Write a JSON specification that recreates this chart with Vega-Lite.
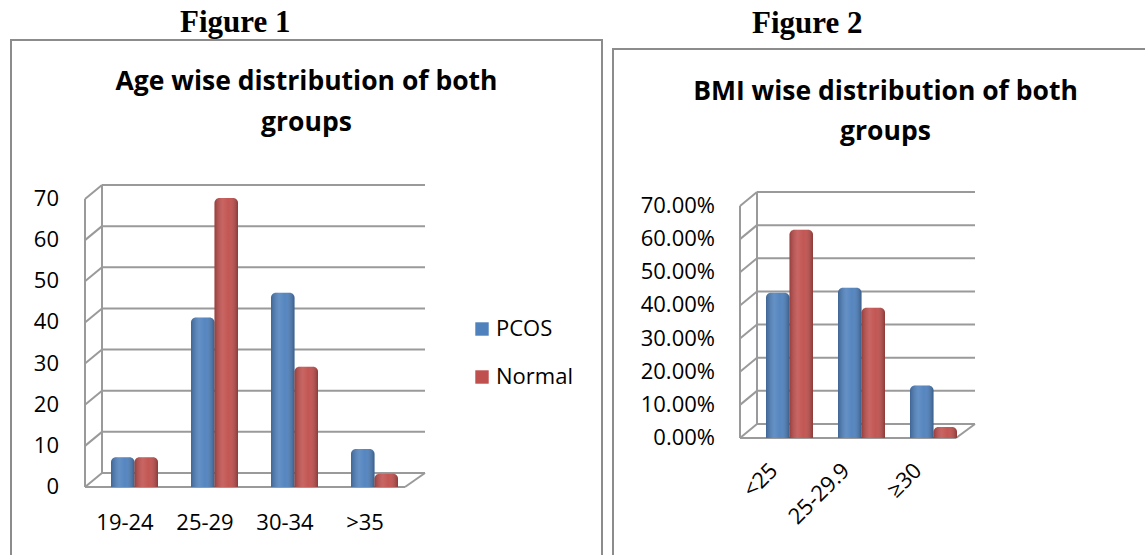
{
  "$schema": "https://vega.github.io/schema/vega-lite/v6.json",
  "padding": {"left": 10, "top": 7, "right": 0, "bottom": 0},
  "background": "white",
  "spacing": 9,
  "config": {
    "font": "Open Sans",
    "view": {"stroke": "#8c8c8c", "strokeWidth": 2},
    "axis": {"disable": true},
    "legend": {"labelFont": "Open Sans", "labelColor": "#000000"}
  },
  "datasets": {
    "age": [
      {"group": "19-24", "series": "PCOS", "value": 6},
      {"group": "19-24", "series": "Normal", "value": 6},
      {"group": "25-29", "series": "PCOS", "value": 40},
      {"group": "25-29", "series": "Normal", "value": 69},
      {"group": "30-34", "series": "PCOS", "value": 46},
      {"group": "30-34", "series": "Normal", "value": 28},
      {"group": ">35", "series": "PCOS", "value": 8},
      {"group": ">35", "series": "Normal", "value": 2}
    ],
    "bmi": [
      {"group": "<25", "series": "PCOS", "value": 0.42},
      {"group": "<25", "series": "Normal", "value": 0.61},
      {"group": "25-29.9", "series": "PCOS", "value": 0.435},
      {"group": "25-29.9", "series": "Normal", "value": 0.375},
      {"group": "≥30", "series": "PCOS", "value": 0.14},
      {"group": "≥30", "series": "Normal", "value": 0.015}
    ],
    "ageGroups": [{"group": "19-24"}, {"group": "25-29"}, {"group": "30-34"}, {"group": ">35"}],
    "bmiGroups": [{"group": "<25"}, {"group": "25-29.9"}, {"group": "≥30"}],
    "ageTicks": [{"v": 0}, {"v": 10}, {"v": 20}, {"v": 30}, {"v": 40}, {"v": 50}, {"v": 60}, {"v": 70}],
    "bmiTicks": [{"v": 0}, {"v": 0.1}, {"v": 0.2}, {"v": 0.3}, {"v": 0.4}, {"v": 0.5}, {"v": 0.6}, {"v": 0.7}],
    "one": [{}],
    "none": []
  },
  "hconcat": [
    {
      "title": {"text": "Figure 1", "anchor": "start", "dx": 170, "font": "Liberation Serif", "fontSize": 31, "fontWeight": "bold", "color": "#000000", "offset": 0},
      "vconcat": [
        {
          "width": 591,
          "height": 525,
          "title": {"text": ["Age wise distribution of both", "groups"], "anchor": "middle", "font": "Open Sans", "fontSize": 26.5, "fontWeight": "bold", "lineHeight": 41, "offset": -96, "color": "#000000"},
          "layer": [
            {
              "data": {"name": "ageTicks"},
              "mark": {"type": "rule", "color": "#9a9a9a", "strokeWidth": 2, "xOffset": 17, "x2Offset": 20, "yOffset": -14},
              "encoding": {
                "x": {"datum": "19-24", "type": "nominal", "bandPosition": 0, "scale": {"domain": ["19-24", "25-29", "30-34", ">35"], "range": [74, 394], "paddingInner": 0, "paddingOuter": 0}},
                "x2": {"datum": ">35", "bandPosition": 1},
                "y": {"field": "v", "type": "quantitative", "scale": {"domain": [0, 70], "range": [447, 159], "nice": false, "zero": false}}
              }
            },
            {
              "data": {"name": "ageTicks"},
              "mark": {"type": "rule", "color": "#9a9a9a", "strokeWidth": 2, "x2Offset": 17, "y2Offset": -14},
              "encoding": {
                "x": {"datum": "19-24", "type": "nominal", "bandPosition": 0},
                "x2": {"datum": "19-24", "bandPosition": 0},
                "y": {"field": "v", "type": "quantitative"},
                "y2": {"field": "v"}
              }
            },
            {
              "data": {"name": "one"},
              "mark": {"type": "rule", "color": "#9a9a9a", "strokeWidth": 2},
              "encoding": {
                "x": {"datum": "19-24", "type": "nominal", "bandPosition": 0},
                "y": {"datum": 0, "type": "quantitative"},
                "y2": {"datum": 70}
              }
            },
            {
              "data": {"name": "one"},
              "mark": {"type": "rule", "color": "#9a9a9a", "strokeWidth": 2, "xOffset": 17, "yOffset": -14, "y2Offset": -14},
              "encoding": {
                "x": {"datum": "19-24", "type": "nominal", "bandPosition": 0},
                "y": {"datum": 0, "type": "quantitative"},
                "y2": {"datum": 70}
              }
            },
            {
              "data": {"name": "one"},
              "mark": {"type": "rule", "color": "#9a9a9a", "strokeWidth": 2},
              "encoding": {
                "x": {"datum": "19-24", "type": "nominal", "bandPosition": 0},
                "x2": {"datum": ">35", "bandPosition": 1},
                "y": {"datum": 0, "type": "quantitative"}
              }
            },
            {
              "data": {"name": "one"},
              "mark": {"type": "rule", "color": "#9a9a9a", "strokeWidth": 2, "x2Offset": 20, "y2Offset": -14},
              "encoding": {
                "x": {"datum": ">35", "type": "nominal", "bandPosition": 1},
                "x2": {"datum": ">35", "bandPosition": 1},
                "y": {"datum": 0, "type": "quantitative"},
                "y2": {"datum": 0}
              }
            },
            {
              "data": {"name": "ageTicks"},
              "mark": {"type": "text", "align": "right", "baseline": "middle", "xOffset": -26, "fontSize": 22, "font": "Open Sans", "color": "#000000"},
              "encoding": {
                "x": {"datum": "19-24", "type": "nominal", "bandPosition": 0},
                "y": {"field": "v", "type": "quantitative"},
                "text": {"field": "v", "type": "quantitative", "format": "d"}
              }
            },
            {
              "data": {"name": "ageGroups"},
              "mark": {"type": "text", "align": "center", "baseline": "middle", "yOffset": 36, "fontSize": 22, "font": "Open Sans", "color": "#000000"},
              "encoding": {
                "x": {"field": "group", "type": "nominal", "sort": null},
                "y": {"datum": 0, "type": "quantitative"},
                "text": {"field": "group", "type": "nominal"}
              }
            },
            {
              "data": {"name": "age"},
              "mark": {"type": "bar", "yOffset": -5, "y2Offset": -4, "cornerRadiusTopLeft": 5, "cornerRadiusTopRight": 5},
              "encoding": {
                "x": {"field": "group", "type": "nominal", "sort": null},
                "xOffset": {"field": "series", "type": "nominal", "sort": ["PCOS", "Normal"], "scale": {"domain": ["PCOS", "Normal"], "range": [26, 73], "paddingInner": 0, "paddingOuter": 0}},
                "y": {"field": "value", "type": "quantitative", "stack": null},
                "color": {"field": "series", "type": "nominal", "sort": ["PCOS", "Normal"], "scale": {"domain": ["PCOS", "Normal"], "range": ["#4F81BD", "#C0504D"]}, "legend": {"orient": "none", "legendX": 460, "legendY": 278, "title": null, "symbolType": "square", "symbolSize": 180, "symbolStrokeWidth": 0, "labelFontSize": 22, "labelOffset": 3, "rowPadding": 26}}
              }
            },
            {
              "data": {"name": "age"},
              "mark": {"type": "bar", "yOffset": -5, "y2Offset": -4, "cornerRadiusTopLeft": 5, "cornerRadiusTopRight": 5, "fill": {"gradient": "linear", "x1": 0, "x2": 1, "y1": 0, "y2": 0, "stops": [{"offset": 0, "color": "rgba(0,0,0,0.22)"}, {"offset": 0.35, "color": "rgba(255,255,255,0.12)"}, {"offset": 0.6, "color": "rgba(255,255,255,0.04)"}, {"offset": 1, "color": "rgba(0,0,0,0.28)"}]}},
              "encoding": {
                "x": {"field": "group", "type": "nominal", "sort": null},
                "xOffset": {"field": "series", "type": "nominal", "sort": ["PCOS", "Normal"]},
                "y": {"field": "value", "type": "quantitative", "stack": null}
              }
            }
          ]
        }
      ]
    },
    {
      "title": {"text": "Figure 2", "anchor": "start", "dx": 140, "font": "Liberation Serif", "fontSize": 31, "fontWeight": "bold", "color": "#000000", "offset": 0},
      "spacing": 0,
      "vconcat": [
        {
          "width": 545,
          "height": 8,
          "view": {"stroke": null},
          "data": {"name": "none"},
          "mark": "point"
        },
        {
          "width": 545,
          "height": 517,
          "title": {"text": ["BMI wise distribution of both", "groups"], "anchor": "middle", "font": "Open Sans", "fontSize": 26.5, "fontWeight": "bold", "lineHeight": 40, "offset": -96, "color": "#000000"},
          "layer": [
            {
              "data": {"name": "bmiTicks"},
              "mark": {"type": "rule", "color": "#9a9a9a", "strokeWidth": 2, "xOffset": 17, "x2Offset": 19, "yOffset": -14},
              "encoding": {
                "x": {"datum": "<25", "type": "nominal", "bandPosition": 0, "scale": {"domain": ["<25", "25-29.9", "≥30"], "range": [127, 343], "paddingInner": 0, "paddingOuter": 0}},
                "x2": {"datum": "≥30", "bandPosition": 1},
                "y": {"field": "v", "type": "quantitative", "scale": {"domain": [0, 0.7], "range": [389, 157], "nice": false, "zero": false}}
              }
            },
            {
              "data": {"name": "bmiTicks"},
              "mark": {"type": "rule", "color": "#9a9a9a", "strokeWidth": 2, "x2Offset": 17, "y2Offset": -14},
              "encoding": {
                "x": {"datum": "<25", "type": "nominal", "bandPosition": 0},
                "x2": {"datum": "<25", "bandPosition": 0},
                "y": {"field": "v", "type": "quantitative"},
                "y2": {"field": "v"}
              }
            },
            {
              "data": {"name": "one"},
              "mark": {"type": "rule", "color": "#9a9a9a", "strokeWidth": 2},
              "encoding": {
                "x": {"datum": "<25", "type": "nominal", "bandPosition": 0},
                "y": {"datum": 0, "type": "quantitative"},
                "y2": {"datum": 0.7}
              }
            },
            {
              "data": {"name": "one"},
              "mark": {"type": "rule", "color": "#9a9a9a", "strokeWidth": 2, "xOffset": 17, "yOffset": -14, "y2Offset": -14},
              "encoding": {
                "x": {"datum": "<25", "type": "nominal", "bandPosition": 0},
                "y": {"datum": 0, "type": "quantitative"},
                "y2": {"datum": 0.7}
              }
            },
            {
              "data": {"name": "one"},
              "mark": {"type": "rule", "color": "#9a9a9a", "strokeWidth": 2},
              "encoding": {
                "x": {"datum": "<25", "type": "nominal", "bandPosition": 0},
                "x2": {"datum": "≥30", "bandPosition": 1},
                "y": {"datum": 0, "type": "quantitative"}
              }
            },
            {
              "data": {"name": "one"},
              "mark": {"type": "rule", "color": "#9a9a9a", "strokeWidth": 2, "x2Offset": 19, "y2Offset": -14},
              "encoding": {
                "x": {"datum": "≥30", "type": "nominal", "bandPosition": 1},
                "x2": {"datum": "≥30", "bandPosition": 1},
                "y": {"datum": 0, "type": "quantitative"},
                "y2": {"datum": 0}
              }
            },
            {
              "data": {"name": "bmiTicks"},
              "mark": {"type": "text", "align": "right", "baseline": "middle", "xOffset": -25, "fontSize": 22, "font": "Open Sans", "color": "#000000"},
              "encoding": {
                "x": {"datum": "<25", "type": "nominal", "bandPosition": 0},
                "y": {"field": "v", "type": "quantitative"},
                "text": {"field": "v", "type": "quantitative", "format": ".2%"}
              }
            },
            {
              "data": {"name": "bmiGroups"},
              "mark": {"type": "text", "align": "right", "baseline": "top", "angle": -45, "xOffset": -9, "yOffset": 22, "fontSize": 22, "font": "Open Sans", "color": "#000000"},
              "encoding": {
                "x": {"field": "group", "type": "nominal", "sort": null},
                "y": {"datum": 0, "type": "quantitative"},
                "text": {"field": "group", "type": "nominal"}
              }
            },
            {
              "data": {"name": "bmi"},
              "mark": {"type": "bar", "yOffset": -6, "y2Offset": -5, "cornerRadiusTopLeft": 5, "cornerRadiusTopRight": 5},
              "encoding": {
                "x": {"field": "group", "type": "nominal", "sort": null},
                "xOffset": {"field": "series", "type": "nominal", "sort": ["PCOS", "Normal"], "scale": {"domain": ["PCOS", "Normal"], "range": [24, 66], "paddingInner": 0, "paddingOuter": 0}},
                "y": {"field": "value", "type": "quantitative", "stack": null},
                "color": {"field": "series", "type": "nominal", "sort": ["PCOS", "Normal"], "scale": {"domain": ["PCOS", "Normal"], "range": ["#4F81BD", "#C0504D"]}, "legend": {"orient": "none", "legendX": 411, "legendY": 264, "title": null, "symbolType": "square", "symbolSize": 180, "symbolStrokeWidth": 0, "labelFontSize": 22, "labelOffset": 3, "rowPadding": 29}}
              }
            },
            {
              "data": {"name": "bmi"},
              "mark": {"type": "bar", "yOffset": -6, "y2Offset": -5, "cornerRadiusTopLeft": 5, "cornerRadiusTopRight": 5, "fill": {"gradient": "linear", "x1": 0, "x2": 1, "y1": 0, "y2": 0, "stops": [{"offset": 0, "color": "rgba(0,0,0,0.22)"}, {"offset": 0.35, "color": "rgba(255,255,255,0.12)"}, {"offset": 0.6, "color": "rgba(255,255,255,0.04)"}, {"offset": 1, "color": "rgba(0,0,0,0.28)"}]}},
              "encoding": {
                "x": {"field": "group", "type": "nominal", "sort": null},
                "xOffset": {"field": "series", "type": "nominal", "sort": ["PCOS", "Normal"]},
                "y": {"field": "value", "type": "quantitative", "stack": null}
              }
            }
          ]
        }
      ]
    }
  ]
}
